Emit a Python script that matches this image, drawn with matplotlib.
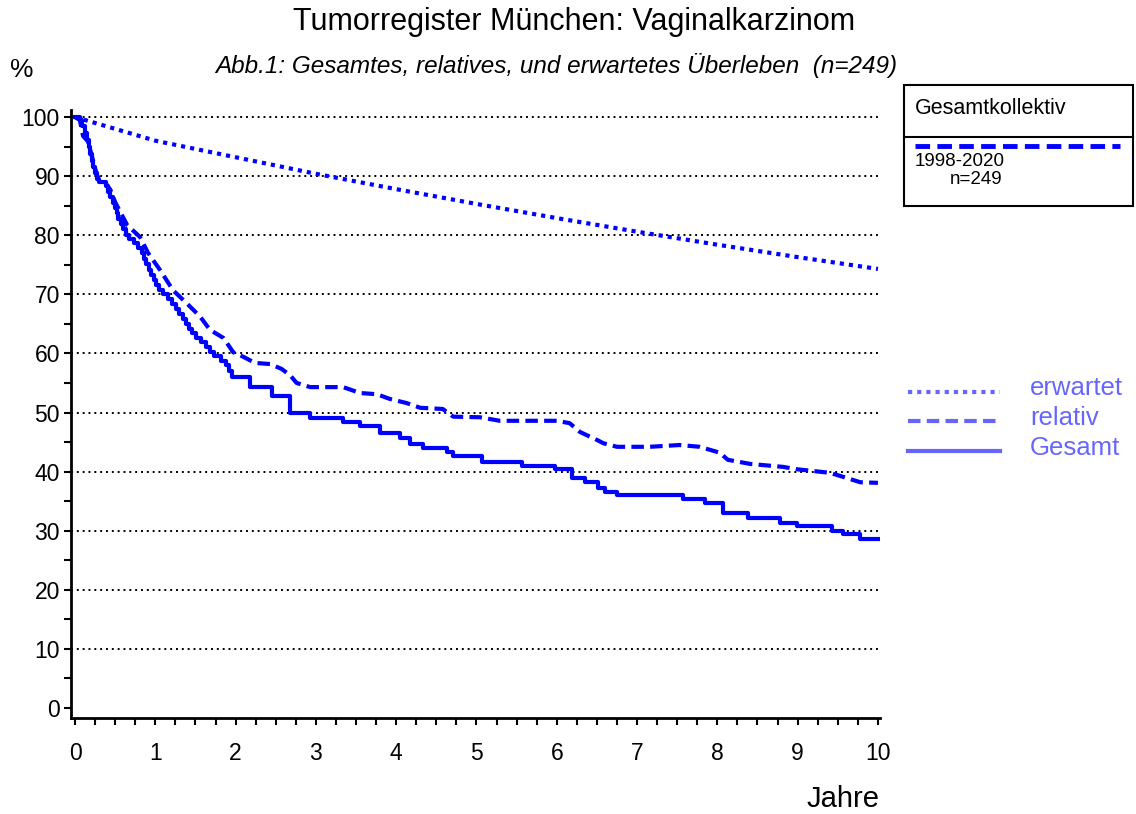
import numpy as np
import matplotlib.pyplot as plt
from matplotlib.lines import Line2D
from matplotlib.patches import Rectangle
from matplotlib.ticker import MultipleLocator

plt.rcParams['font.family'] = ['Liberation Sans', 'DejaVu Sans']

# expected survival (erwartet)
exp_t = [0, 1, 2, 3, 4, 5, 6, 7, 8, 9, 10]
exp_s = [100, 96.0, 93.2, 90.4, 87.8, 85.3, 82.9, 80.6, 78.4, 76.3, 74.3]

# overall survival (Gesamt), step curve
os_t = [0, 0.06, 0.09, 0.12, 0.15, 0.17, 0.19, 0.21, 0.23, 0.25, 0.27, 0.30,
        0.38, 0.41, 0.44, 0.47, 0.50, 0.52, 0.54, 0.57, 0.60, 0.63, 0.67, 0.74,
        0.79, 0.83, 0.86, 0.89, 0.92, 0.95, 0.98, 1.01, 1.05, 1.10, 1.16, 1.21,
        1.26, 1.30, 1.34, 1.38, 1.42, 1.46, 1.51, 1.57, 1.63, 1.68, 1.73, 1.82,
        1.88, 1.92, 1.96,
        2.18, 2.45, 2.68, 2.93, 3.34, 3.55, 3.8, 4.05, 4.17, 4.34, 4.63,
        4.71, 5.07, 5.57, 5.98, 6.19, 6.35, 6.51, 6.6, 6.75, 7.57, 7.85, 8.07,
        8.38, 8.78, 8.99, 9.43, 9.57, 9.78, 10.0]
os_s = [100, 99.5, 98.5, 97.3, 96.2, 95.0, 93.8, 92.6, 91.5, 90.5, 89.6, 89.0,
        88.3, 87.3, 86.4, 85.4, 84.6, 83.7, 82.8, 81.9, 81.0, 80.1, 79.4, 78.7,
        77.9, 77.0, 76.0, 75.1, 74.2, 73.3, 72.5, 71.6, 70.7, 70.0, 69.2, 68.3,
        67.5, 66.7, 65.8, 65.0, 64.2, 63.4, 62.6, 61.9, 61.1, 60.3, 59.6, 58.8,
        58.0, 57.0, 56.0,
        54.3, 52.8, 49.9, 49.1, 48.4, 47.7, 46.5, 45.7, 44.7, 44.0, 43.3,
        42.6, 41.6, 40.9, 40.4, 38.9, 38.2, 37.2, 36.5, 36.0, 35.3, 34.7, 33.0,
        32.2, 31.3, 30.8, 29.9, 29.4, 28.6, 28.6]

# relative survival (relativ)
rel_t = [0, 0.06, 0.1, 0.16, 0.21, 0.25, 0.29, 0.35, 0.44, 0.5, 0.65, 0.81, 0.91,
         1.06, 1.22, 1.39, 1.56, 1.68, 1.85, 1.97, 2.1, 2.24, 2.43, 2.57, 2.68,
         2.76, 2.93, 3.34, 3.55, 3.76, 3.92, 4.13, 4.3, 4.58, 4.71, 5.04, 5.29,
         6.0, 6.16, 6.29, 6.51, 6.58, 6.75, 7.16, 7.53, 7.78, 8.03, 8.13, 8.41,
         8.82, 8.99, 9.4, 9.57, 9.78, 10.0]
rel_s = [100, 99.5, 96.8, 95.9, 93.4, 91.3, 89.6, 89.4, 87.7, 85.6, 81.7, 79.7, 77.0,
         74.1, 70.7, 68.5, 66.2, 64.0, 62.6, 60.2, 59.4, 58.4, 58.2, 57.4, 56.3,
         55.0, 54.3, 54.3, 53.3, 53.1, 52.3, 51.6, 50.8, 50.6, 49.3, 49.2, 48.6,
         48.6, 48.2, 46.7, 45.3, 44.8, 44.2, 44.2, 44.5, 44.2, 43.2, 42.0, 41.3,
         40.8, 40.4, 39.8, 39.1, 38.2, 38.1]

blue = '#0000ff'
light = '#6666ff'

fig = plt.figure(figsize=(11.36, 8.14), dpi=100)
ax = fig.add_axes([0.0625, 0.1179, 0.7121, 0.747])

for yv in range(10, 101, 10):
    ax.axhline(yv, color='black', lw=1.4, ls=(0, (1, 2)), zorder=1)

ax.plot(exp_t, exp_s, color=blue, lw=3, ls=(0, (1, 1.2)), zorder=3)
ax.plot(rel_t, rel_s, color=blue, lw=3, ls=(0, (3, 1.5)), zorder=3)
ax.step(os_t, os_s, where='post', color=blue, lw=3, zorder=4)

ax.set_xlim(-0.05, 10.025)
ax.set_ylim(-1.7, 101.2)
ax.spines['top'].set_visible(False)
ax.spines['right'].set_visible(False)
ax.spines['left'].set_linewidth(2)
ax.spines['bottom'].set_linewidth(2)
ax.xaxis.set_major_locator(MultipleLocator(1))
ax.xaxis.set_minor_locator(MultipleLocator(0.25))
ax.yaxis.set_major_locator(MultipleLocator(10))
ax.yaxis.set_minor_locator(MultipleLocator(5))
ax.tick_params(which='both', direction='out', length=5, width=1.5, color='black')
ax.tick_params(axis='both', labelsize=16.5)
ax.tick_params(axis='x', pad=12)
ax.tick_params(axis='y', pad=3)

fig.text(0.505, 0.973, 'Tumorregister München: Vaginalkarzinom', ha='center', va='center', fontsize=22)
fig.text(0.49, 0.919, 'Abb.1: Gesamtes, relatives, und erwartetes Überleben  (n=249)',
         ha='center', va='center', fontsize=17.5, style='italic')
fig.text(0.019, 0.914, '%', ha='center', va='center', fontsize=19)
fig.text(0.774, 0.019, 'Jahre', ha='right', va='center', fontsize=21)

# top-right legend box
fig.add_artist(Rectangle((904 / 1136, 1 - 206 / 814), 229 / 1136, 121 / 814,
                         transform=fig.transFigure, fill=False, lw=1.5, ec='black'))
fig.add_artist(Line2D([904 / 1136, 1133 / 1136], [1 - 137 / 814] * 2,
                      transform=fig.transFigure, color='black', lw=1.5))
fig.text(915 / 1136, 1 - 108 / 814, 'Gesamtkollektiv', ha='left', va='center', fontsize=15.5)
fig.add_artist(Line2D([915 / 1136, 1120 / 1136], [1 - 146 / 814] * 2,
                      transform=fig.transFigure, color=blue, lw=3.5, ls=(0, (3, 1.5))))
fig.text(915 / 1136, 1 - 161 / 814, '1998-2020', ha='left', va='center', fontsize=13.5)
fig.text(950 / 1136, 1 - 180 / 814, 'n=249', ha='left', va='center', fontsize=13.5)

# line style legend
styles = [(0, (1, 1.2)), (0, (3, 1.5)), '-']
names = ['erwartet', 'relativ', 'Gesamt']
line_y = [392, 421, 451]
text_y = [388, 418, 448]
for st, nm, ly, ty in zip(styles, names, line_y, text_y):
    fig.add_artist(Line2D([908 / 1136, 1000 / 1136], [1 - ly / 814] * 2,
                          transform=fig.transFigure, color=light, lw=3, ls=st))
    fig.text(1030 / 1136, 1 - ty / 814, nm, ha='left', va='center', fontsize=18.5, color=light)

fig.savefig('out.png', dpi=100)
